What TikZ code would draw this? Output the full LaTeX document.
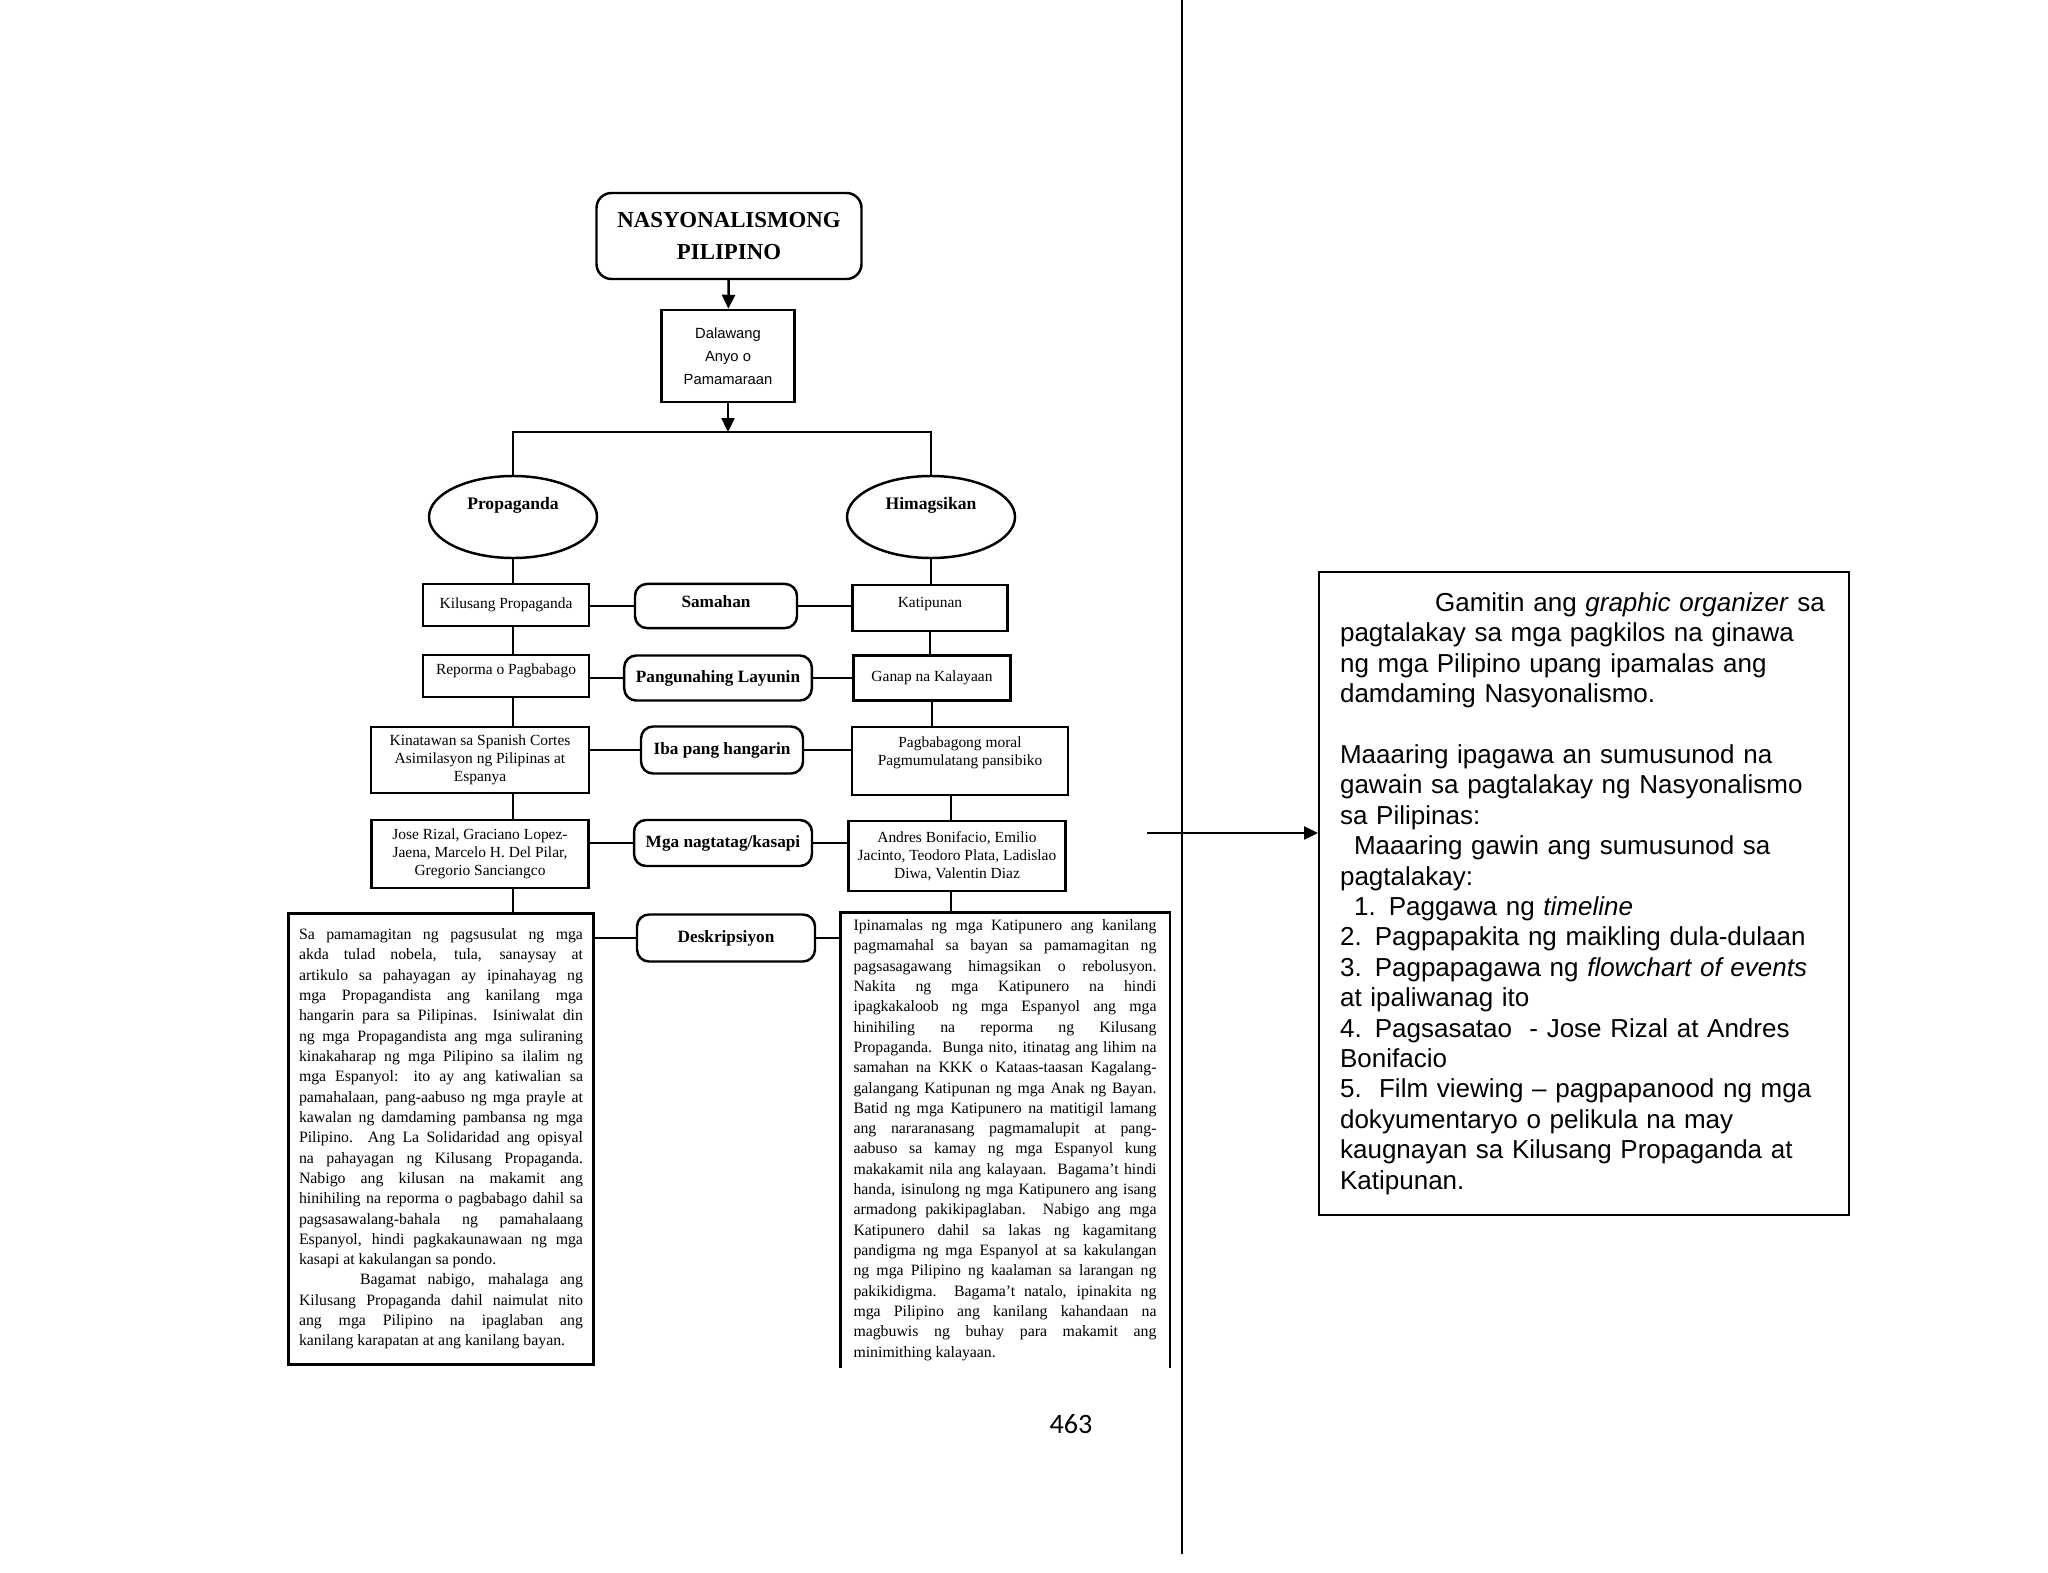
\documentclass[tikz,border=0pt]{standalone}
\usepackage{fontspec}
\setmainfont{Liberation Serif}
\newfontfamily\sansfont{Liberation Sans}
\newfontfamily\pagefont{Carlito}
\usepackage{tikz}
\usetikzlibrary{shapes.geometric}
\usetikzlibrary{positioning}
\usetikzlibrary{arrows.meta}

\begin{document}
\begin{tikzpicture}[x=0.1mm,y=-0.1mm,>={Triangle[length=1.4mm,width=1.3mm]},line width=0.7pt,
        box/.style={draw,rectangle,inner sep=0.5mm,align=center,font=\fontsize{4.4pt}{5.1pt}\selectfont},
        rbox/.style={draw,rectangle,rounded corners=1.2mm,align=center,font=\bfseries\fontsize{4.9pt}{6pt}\selectfont},
        oval/.style={draw,ellipse,minimum width=16.8mm,minimum height=8.2mm,inner sep=0pt,text depth=8pt,font=\bfseries\fontsize{5pt}{6pt}\selectfont},
        desc/.style={rectangle,align=justify,inner ysep=0pt,font=\fontsize{4.5pt}{5.78pt}\selectfont}]
    \useasboundingbox (0,0) rectangle (2048,1572);
    \fill[white] (0,0) rectangle (2048,1572);
        \node[draw,rounded corners=1.5mm,minimum width=26.5mm,minimum height=8.6mm,align=center,font=\bfseries\fontsize{6.5pt}{8.9pt}\selectfont] (title) at (729,236) {NASYONALISMONG\\PILIPINO};
        \node[box,minimum width=13.3mm,minimum height=9.2mm,font=\sansfont\fontsize{4.2pt}{6.5pt}\selectfont] (dal) at (728,356) {Dalawang\\Anyo o\\Pamamaraan};
        \coordinate (split) at (728,432);
        \node[oval] (prop) at (513,517) {Propaganda};
        \node[oval] (him) at (931,517) {Himagsikan};
        \node[box,minimum width=16.6mm,minimum height=4.2mm] (kil) at (506,605) {Kilusang Propaganda};
        \node[rbox,minimum width=16.2mm,minimum height=4.4mm,text depth=2.5pt] (sam) at (716,606) {Samahan};
        \node[box,minimum width=15.5mm,minimum height=4.6mm,text depth=3.2pt] (kat) at (930,608) {Katipunan};
        \node[box,minimum width=16.6mm,minimum height=4.2mm,text depth=4pt] (rep) at (506,676) {Reporma o Pagbabago};
        \node[rbox,minimum width=18.5mm,minimum height=4.5mm] (pang) at (718,678) {Pangunahing Layunin};
        \node[box,minimum width=15.7mm,minimum height=4.5mm] (gan) at (932,678) {Ganap na Kalayaan};
        \node[box,minimum width=21.8mm,minimum height=6.6mm] (kin) at (480,760) {Kinatawan sa Spanish Cortes\\Asimilasyon ng Pilipinas at\\Espanya};
        \node[rbox,minimum width=16.2mm,minimum height=4.7mm] (iba) at (722,750) {Iba pang hangarin};
        \node[box,minimum width=21.6mm,minimum height=6.8mm] (pag) at (960,761) {Pagbabagong moral\\Pagmumulatang pansibiko\\[0.5pt]};
        \node[box,minimum width=21.7mm,minimum height=6.8mm] (jose) at (480,854) {Jose Rizal, Graciano Lopez-\\Jaena, Marcelo H. Del Pilar,\\Gregorio Sanciangco};
        \node[rbox,minimum width=17.6mm,minimum height=4.6mm] (mga) at (723,843) {Mga nagtatag/kasapi};
        \node[box,minimum width=21.7mm,minimum height=7mm] (andr) at (957,856) {Andres Bonifacio, Emilio\\Jacinto, Teodoro Plata, Ladislao\\Diwa, Valentin Diaz};
        \node[rbox,minimum width=17.8mm,minimum height=4.7mm] (deskr) at (726,938) {Deskripsiyon};
        \node[desc,draw,text width=28.4mm,inner xsep=1.05mm,minimum height=45.1mm] (ldesc) at (441,1139) {Sa pamamagitan ng pagsusulat ng mga\linebreak
akda tulad nobela, tula, sanaysay at\linebreak
artikulo sa pahayagan ay ipinahayag ng\linebreak
mga Propagandista ang kanilang mga\linebreak
hangarin para sa Pilipinas.\ \ Isiniwalat din\linebreak
ng mga Propagandista ang mga suliraning\linebreak
kinakaharap ng mga Pilipino sa ilalim ng\linebreak
mga Espanyol: ito ay ang katiwalian sa\linebreak
pamahalaan, pang-aabuso ng mga prayle at\linebreak
kawalan ng damdaming pambansa ng mga\linebreak
Pilipino.\ \ Ang La Solidaridad ang opisyal\linebreak
na pahayagan ng Kilusang Propaganda.\linebreak
Nabigo ang kilusan na makamit ang\linebreak
hinihiling na reporma o pagbabago dahil sa\linebreak
pagsasawalang-bahala ng pamahalaang\linebreak
Espanyol, hindi pagkakaunawaan ng mga\linebreak
kasapi at kakulangan sa pondo.\par
\hspace*{6.1mm}Bagamat nabigo, mahalaga ang\linebreak
Kilusang Propaganda dahil naimulat nito\linebreak
ang mga Pilipino na ipaglaban ang\linebreak
kanilang karapatan at ang kanilang bayan.};
        \node[desc,text width=30.3mm,inner xsep=1.2mm,minimum height=45.3mm] (rdesc) at (1005,1140) {Ipinamalas ng mga Katipunero ang kanilang\linebreak
pagmamahal sa bayan sa pamamagitan ng\linebreak
pagsasagawang himagsikan o rebolusyon.\linebreak
Nakita ng mga Katipunero na hindi\linebreak
ipagkakaloob ng mga Espanyol ang mga\linebreak
hinihiling na reporma ng Kilusang\linebreak
Propaganda.\ \ Bunga nito, itinatag ang lihim na\linebreak
samahan na KKK o Kataas-taasan Kagalang-\linebreak
galangang Katipunan ng mga Anak ng Bayan.\linebreak
Batid ng mga Katipunero na matitigil lamang\linebreak
ang nararanasang pagmamalupit at pang-\linebreak
aabuso sa kamay ng mga Espanyol kung\linebreak
makakamit nila ang kalayaan.\ \ Bagama't hindi\linebreak
handa, isinulong ng mga Katipunero ang isang\linebreak
armadong pakikipaglaban.\ \ Nabigo ang mga\linebreak
Katipunero dahil sa lakas ng kagamitang\linebreak
pandigma ng mga Espanyol at sa kakulangan\linebreak
ng mga Pilipino ng kaalaman sa larangan ng\linebreak
pakikidigma.\ \ Bagama't natalo, ipinakita ng\linebreak
mga Pilipino ang kanilang kahandaan na\linebreak
magbuwis ng buhay para makamit ang\linebreak
minimithing kalayaan.};
        \node[draw,line width=0.6pt,anchor=north west,minimum height=64.3mm,text width=48.8mm,inner xsep=2.1mm,align=left,font=\sansfont\fontsize{7.4pt}{8.65pt}\selectfont] (task) at (1318,571) {\hspace*{9.5mm}Gamitin ang \textit{graphic organizer} sa\\
pagtalakay sa mga pagkilos na ginawa\\
ng mga Pilipino upang ipamalas ang\\
damdaming Nasyonalismo.\\
\mbox{}\\
Maaaring ipagawa an sumusunod na\\
gawain sa pagtalakay ng Nasyonalismo\\
sa Pilipinas:\\
\hspace*{1.4mm}Maaaring gawin ang sumusunod sa\\
pagtalakay:\\
\hspace*{1.4mm}1. Paggawa ng \textit{timeline}\\
2. Pagpapakita ng maikling dula-dulaan\\
3. Pagpapagawa ng \textit{flowchart of events}\\
at ipaliwanag ito\\
4. Pagsasatao\ \ - Jose Rizal at Andres\\
Bonifacio\\
5.\ \ Film viewing – pagpapanood ng mga\\
dokyumentaryo o pelikula na may\\
kaugnayan sa Kilusang Propaganda at\\
Katipunan.};
        \node[font=\pagefont\fontsize{8pt}{9.6pt}\selectfont] (pnum) at (1071,1424) {463};
        \coordinate (ptop) at (1182,0);
        \coordinate (pbot) at (1182,1554);
        \coordinate (atail) at (1147,833);
        \draw[->] (title) -- (dal);
        \draw[->] (dal) -- (split);
        \draw (prop.north) |- (split) -| (him.north);
        \draw (prop.south) -- (prop.south |- kil.north);
        \draw (prop.south |- kil.south) -- (prop.south |- rep.north);
        \draw (prop.south |- rep.south) -- (prop.south |- kin.north);
        \draw (prop.south |- kin.south) -- (prop.south |- jose.north);
        \draw (prop.south |- jose.south) -- (prop.south |- ldesc.north);
        \draw (him.south) -- (him.south |- kat.north);
        \draw (kat.south) -- (kat.south |- gan.north);
        \draw (gan.south) -- (gan.south |- pag.north);
        \draw ([xshift=-0.6mm]andr.north |- pag.south) -- ([xshift=-0.6mm]andr.north);
        \draw ([xshift=-0.6mm]andr.south) -- ([xshift=-0.6mm]andr.south |- rdesc.north);
        \draw (kil.east |- sam.west) -- (sam.west);
        \draw (sam.east) -- (sam.east -| kat.west);
        \draw (rep.east |- pang.west) -- (pang.west);
        \draw (pang.east) -- (pang.east -| gan.west);
        \draw (kin.east |- iba.west) -- (iba.west);
        \draw (iba.east) -- (iba.east -| pag.west);
        \draw (jose.east |- mga.west) -- (mga.west);
        \draw (mga.east) -- (mga.east -| andr.west);
        \draw (ldesc.east |- deskr.west) -- (deskr.west);
        \draw (deskr.east) -- (deskr.east -| rdesc.west);
        \draw (rdesc.south west) -- (rdesc.north west) -- (rdesc.north east) -- (rdesc.south east);
        \draw[line width=0.6pt] (ptop) -- (pbot);
        \draw[->,line width=0.6pt] (atail) -- (atail -| task.west);
\end{tikzpicture}
\end{document}
